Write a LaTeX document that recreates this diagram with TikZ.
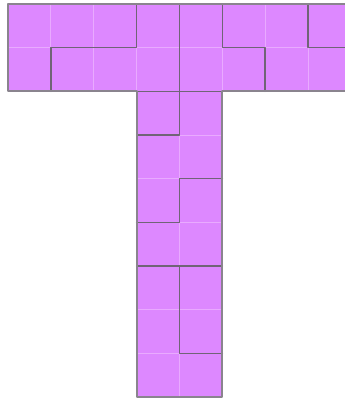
\documentclass[tikz,border=0pt]{standalone}
\definecolor{tfill}{RGB}{221,136,255}
\definecolor{tgrid}{RGB}{233,170,255}
\definecolor{tpiece}{RGB}{112,100,118}
\definecolor{trim}{RGB}{138,132,142}
\begin{document}
\begin{tikzpicture}[line join=round, line cap=round, x=32.14pt, y=-32.75pt]
	\tikzset{gridline/.style={tgrid,line width=.6pt},
		piece/.style={tpiece,line width=1.1pt},
		rim/.style={trim,line width=1.5pt}}
	\def\xmin{-0.187} \def\xmax{7.863} \def\ymin{-0.092} \def\ymax{9.045}
	\useasboundingbox (\xmin,\ymin) rectangle (\xmax,\ymax);
	\clip (\xmin,\ymin) rectangle (\xmax,\ymax);
	% bar and stem
	\fill[tfill] (0,0) rectangle (8,2) (3,2) rectangle (5,9);
	\foreach \x in {1,...,7} \draw[gridline] (\x,0)--(\x,2);
	\draw[gridline] (0,1)--(8,1);
	\foreach \y in {3,...,8} \draw[gridline] (3,\y)--(5,\y);
	\draw[gridline] (4,2)--(4,9);
	% pieces
	\draw[piece] (3,0)--(3,1)--(1,1)--(1,2);
	\draw[piece] (4,0)--(4,3)--(3,3);
	\draw[piece] (5,0)--(5,1)--(6,1)--(6,2);
	\draw[piece] (7,0)--(7,1)--(8,1);
	\draw[piece] (3,2)--(5,2);
	\draw[piece] (5,4)--(4,4)--(4,5)--(3,5);
	\draw[piece] (3,6)--(5,6);
	\draw[piece] (4,6)--(4,8)--(5,8);
	% outline
	\draw[rim] (3,2)--(0,2)--(0,0)--(8,0)--(8,2)--(5,2);
	\draw[rim] (3,2)--(3,9)--(5,9)--(5,2);
\end{tikzpicture}
\end{document}
